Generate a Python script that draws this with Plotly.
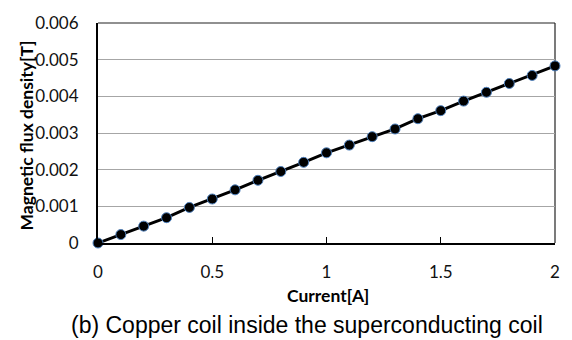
import plotly.graph_objects as go

# Coil current [A] and measured flux density [T]
current = [0.0, 0.1, 0.2, 0.3, 0.4, 0.5, 0.6, 0.7, 0.8, 0.9, 1.0,
           1.1, 1.2, 1.3, 1.4, 1.5, 1.6, 1.7, 1.8, 1.9, 2.0]
flux = [0.0, 0.00023, 0.00046, 0.00069, 0.00097, 0.00120, 0.00145,
        0.00171, 0.00195, 0.00220, 0.00246, 0.00267, 0.00290, 0.00311,
        0.00339, 0.00361, 0.00387, 0.00411, 0.00435, 0.00457, 0.00483]

x_ticks = [0, 0.5, 1, 1.5, 2]
x_labels = ["0", "0.5", "1", "1.5", "2"]
y_ticks = [0, 0.001, 0.002, 0.003, 0.004, 0.005, 0.006]
y_labels = ["0", "0.001", "0.002", "0.003", "0.004", "0.005", "0.006"]

x_title = "Current[A]"
y_title = "Magnetic flux density[T]"
caption = "(b) Copper coil inside the superconducting coil"

fig = go.Figure()
fig.add_trace(go.Scatter(
    x=current, y=flux, mode="lines+markers",
    line=dict(color="black", width=3),
    marker=dict(size=10, color="black", line=dict(color="#4f81bd", width=1)),
    cliponaxis=False, showlegend=False,
))

tick_font = dict(family="Lato, Open Sans", size=17, color="#111")
title_font = dict(family="Lato, Open Sans", size=17.5, color="black")

fig.update_layout(
    width=572, height=340,
    margin=dict(l=98, r=14, t=13, b=97),
    paper_bgcolor="white", plot_bgcolor="white",
    xaxis=dict(
        range=[0, 2], tickvals=x_ticks, ticktext=x_labels,
        ticks="inside", ticklen=6, tickwidth=1, tickcolor="black",
        showgrid=False, zeroline=False,
        showline=True, linecolor="black", linewidth=2,
        tickfont=tick_font, ticklabelstandoff=13,
    ),
    yaxis=dict(
        range=[0, 0.006], tickvals=y_ticks, ticktext=y_labels,
        ticks="", showgrid=True, gridcolor="#a6a6a6", gridwidth=1,
        zeroline=False,
        showline=True, linecolor="black", linewidth=2,
        tickfont=tick_font, ticklabelstandoff=14,
    ),
    shapes=[
        dict(type="line", xref="paper", yref="paper", x0=0, x1=1, y0=1, y1=1,
             line=dict(color="#222", width=1.2), layer="above"),
        dict(type="line", xref="paper", yref="paper", x0=1, x1=1, y0=0, y1=1,
             line=dict(color="#222", width=1.2), layer="below"),
    ],
    annotations=[
        dict(text=f"<b>{x_title}</b>", xref="paper", yref="paper",
             x=0.504, y=-0.24, xanchor="center", yanchor="middle",
             showarrow=False, font=title_font),
        dict(text=f"<b>{y_title}</b>", xref="paper", yref="paper",
             x=-0.157, y=0.49, xanchor="center", yanchor="middle",
             textangle=-90, showarrow=False, font=title_font),
        dict(text=caption, xref="paper", yref="paper", x=0.4576, y=-0.372,
             xanchor="center", yanchor="middle", showarrow=False,
             font=dict(family="Liberation Sans, Arial", size=23, color="black")),
    ],
)

fig.write_html("out.html")
